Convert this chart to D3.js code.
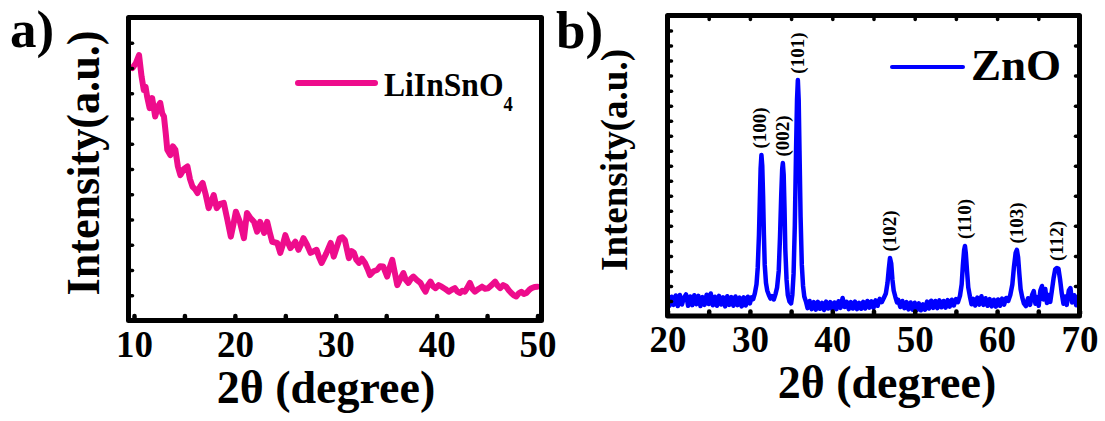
<!DOCTYPE html>
<html>
<head>
<meta charset="utf-8">
<script src="https://cdn.jsdelivr.net/npm/d3@7"></script>
<style>
  html, body { margin: 0; padding: 0; background: #fff; }
  svg { display: block; }
  text { font-family: "Liberation Serif", "Times New Roman", serif; font-weight: bold; fill: #000; }
</style>
</head>
<body>
<svg id="fig" width="1105" height="421"></svg>
<script>
// ---------- (a) LiInSnO4 diffraction pattern ----------
const liinsnoTheta = [
  9.85, 10.2, 10.5, 10.75, 10.97, 11.15, 11.3, 11.55, 11.8, 12.1, 12.35, 12.6, 12.8, 12.97,
  13.15, 13.3, 13.6, 13.85, 14.1, 14.35, 14.6, 14.95, 15.3, 15.55, 15.8, 16.05, 16.3, 16.55,
  16.8, 17.1, 17.4, 17.65, 17.9, 18.2, 18.55, 18.9, 19.25, 19.6, 19.85, 20.1, 20.5, 20.9,
  21.2, 21.55, 21.9, 22.2, 22.5, 22.9, 23.2, 23.45, 23.7, 24.2, 24.5, 24.75, 25.0, 25.25,
  25.5, 26.0, 26.3, 26.55, 26.8, 27.15, 27.5, 28.1, 28.35, 28.6, 29.05, 29.5, 29.8, 30.1,
  30.4, 30.65, 30.9, 31.3, 31.55, 31.8, 32.05, 32.3, 32.6, 32.9, 33.15, 33.4, 33.75, 34.1,
  34.4, 34.7, 35.1, 35.35, 35.6, 35.85, 36.1, 36.4, 36.7, 36.95, 37.2, 37.45, 37.7, 38.05,
  38.4, 38.65, 38.9, 39.15, 39.4, 39.65, 39.9, 40.2, 40.5, 40.85, 41.2, 41.5, 41.8, 42.05,
  42.3, 42.55, 42.8, 43.05, 43.3, 43.55, 43.8, 44.15, 44.5, 44.8, 45.1, 45.45, 45.8, 46.05,
  46.3, 46.6, 46.9, 47.15, 47.4, 47.65, 47.9, 48.15, 48.4, 48.65, 48.9, 49.15, 49.4, 49.7, 50.0
];
const liinsnoIntensity = [
  1000, 1020, 1051, 966, 913, 925, 887, 841, 881, 808, 845, 862, 820, 808,
  740, 676, 655, 690, 676, 610, 576, 600, 610, 560, 530, 520, 505, 530,
  545, 500, 445, 470, 497, 445, 462, 466, 400, 332, 380, 431, 390, 326,
  426, 405, 391, 352, 391, 347, 391, 350, 312, 307, 268, 300, 338, 310,
  287, 312, 280, 300, 326, 300, 268, 280, 250, 228, 265, 307, 253, 290,
  326, 330, 319, 247, 275, 268, 240, 228, 245, 228, 205, 180, 195, 200,
  215, 214, 174, 210, 240, 190, 140, 165, 188, 160, 149, 165, 174, 160,
  149, 130, 114, 140, 154, 135, 128, 140, 134, 125, 114, 122, 128, 115,
  109, 118, 114, 130, 149, 125, 114, 125, 134, 126, 128, 140, 154, 138,
  128, 140, 134, 120, 109, 100, 95, 108, 114, 105, 109, 120, 128, 133, 134
];
const xTicksA = [10, 15, 20, 25, 30, 35, 40, 45, 50];
const xLabelsA = [10, 20, 30, 40, 50];

// ---------- (b) ZnO diffraction pattern ----------
const znoTheta = [
  20.00, 20.25, 20.50, 20.75, 21.00, 21.25, 21.50, 21.75, 22.00, 22.25, 22.50, 22.75,
  23.00, 23.25, 23.50, 23.75, 24.00, 24.25, 24.50, 24.75, 25.00, 25.25, 25.50, 25.75,
  26.00, 26.25, 26.50, 26.75, 27.00, 27.25, 27.50, 27.75, 28.00, 28.25, 28.50, 28.75,
  29.00, 29.25, 29.50, 29.75, 30.00,
  30.20, 30.40, 30.60, 30.80, 30.95, 31.10, 31.20, 31.30, 31.40, 31.50, 31.60, 31.70,
  31.80, 31.95, 32.10, 32.30, 32.50, 32.70, 32.90, 33.10, 33.30, 33.50, 33.65, 33.80,
  33.92, 34.00, 34.10, 34.20, 34.30, 34.45, 34.60, 34.80, 35.00, 35.15, 35.30, 35.45,
  35.60, 35.72, 35.82, 35.92, 36.02, 36.15, 36.30, 36.45, 36.60, 36.80, 37.00, 37.25,
  37.50, 37.75,
  38.00, 38.25, 38.50, 38.75, 39.00, 39.25, 39.50, 39.75, 40.00, 40.25, 40.50, 40.75,
  41.00, 41.25, 41.50, 41.75, 42.00, 42.25, 42.50, 42.75, 43.00, 43.25, 43.50, 43.75,
  44.00, 44.25, 44.50, 44.75, 45.00, 45.25, 45.50, 45.75, 46.00, 46.25, 46.50, 46.70,
  46.85, 47.00, 47.15, 47.30, 47.45, 47.65, 47.85, 48.00, 48.25, 48.50, 48.75, 49.00,
  49.25, 49.50, 49.75, 50.00, 50.25, 50.50, 50.75, 51.00, 51.25, 51.50, 51.75, 52.00,
  52.25, 52.50, 52.75, 53.00, 53.25, 53.50, 53.75, 54.00, 54.25, 54.50, 54.75, 55.00,
  55.25, 55.50, 55.70, 55.85, 56.00, 56.10, 56.20, 56.35, 56.50, 56.70, 56.90, 57.10,
  57.35, 57.60, 57.85, 58.10, 58.35, 58.60, 58.85, 59.10, 59.35, 59.60, 59.85, 60.10,
  60.35, 60.60, 60.85, 61.10, 61.35, 61.60, 61.85, 62.05, 62.25, 62.40, 62.55, 62.70,
  62.85, 63.05, 63.25, 63.50, 63.75, 64.00, 64.25, 64.45, 64.65, 64.85, 65.05, 65.25,
  65.45, 65.65, 65.85, 66.05, 66.25, 66.45, 66.65, 66.85, 67.05, 67.25, 67.45, 67.65,
  67.85, 68.05, 68.25, 68.45, 68.70, 68.90, 69.10, 69.35, 69.60, 69.80, 70.00
];
const znoIntensity = [
  6.6, 3.4, 6.4, 3.7, 6.8, 3.3, 7.0, 3.8, 6.1, 7.2, 3.4, 6.5,
  3.6, 6.9, 3.9, 6.7, 3.3, 6.3, 3.7, 7.1, 4.0, 7.5, 3.6, 6.4,
  3.4, 6.7, 3.8, 6.2, 3.2, 6.6, 3.7, 6.3, 3.4, 6.5, 3.6, 6.1,
  3.2, 6.2, 3.5, 6.4, 4.2,
  6.2, 5.6, 7.5, 10.5, 16, 27, 38, 49, 53.6, 50, 40, 27,
  17, 11, 8.5, 7.0, 5.8, 6.6, 5.5, 7.2, 9.5, 15, 26, 40,
  49, 50.9, 47, 36, 22, 12, 7.0, 4.8, 4.2, 7, 14, 30,
  55, 72, 78.5, 72, 55, 33, 17, 10, 6.5, 4.8, 2.6, 5.0,
  2.3, 4.6,
  2.1, 4.7, 2.4, 4.4, 2.0, 4.8, 2.5, 4.6, 2.2, 4.5, 2.3, 4.9,
  2.7, 6.0, 3.0, 4.7, 2.3, 4.6, 2.5, 4.8, 2.3, 4.4, 2.4, 4.7,
  2.5, 5.0, 2.8, 4.9, 2.7, 5.2, 3.4, 5.7, 4.6, 6.0, 7.5, 11,
  15.5, 19.3, 17.5, 12, 8.5, 6.4, 4.5, 5.4, 3.0, 5.0, 2.6, 4.6,
  2.2, 4.5, 2.1, 4.4, 2.0, 4.2, 1.9, 3.9, 2.1, 4.8, 2.5, 5.1,
  2.7, 5.0, 2.6, 5.2, 2.9, 5.0, 2.8, 5.3, 3.1, 5.4, 3.5, 5.6,
  4.6, 6.8, 10.5, 17, 22, 23.3, 21, 15, 9.5, 6.5, 3.9, 5.7,
  3.5, 6.1, 3.8, 6.6, 3.7, 5.9, 3.4, 5.6, 3.2, 5.4, 3.1, 5.5,
  3.4, 5.8, 3.8, 6.0, 5.0, 7.0, 10.5, 16.5, 21, 22, 19.5, 14,
  9, 6.2, 4.2, 3.3, 5.9, 3.7, 7.0, 8.3, 4.1, 6.3, 3.4, 8.5,
  10.0, 5.5, 9.0, 4.3, 7.0, 4.7, 8.5, 12.5, 15.5, 16.0, 15.7, 12,
  7.5, 4.1, 6.5, 3.7, 8.5, 9.3, 4.5, 6.9, 3.6, 6.5, 4.6
];
const znoPeakLabels = ["(100)", "(002)", "(101)", "(102)", "(110)", "(103)", "(112)"];
const znoPeakTheta = [31.4, 34.0, 35.82, 47.0, 56.1, 62.4, 67.25];
const znoPeakIntensity = [53.6, 50.9, 78.5, 19.3, 23.3, 22.0, 16.0];
const xTicksB = [20, 25, 30, 35, 40, 45, 50, 55, 60, 65, 70];
const xLabelsB = [20, 30, 40, 50, 60, 70];

// ---------- drawing ----------
const svg = d3.select("#fig");
const PINK = "#ee0c8c", BLUE = "#0000ff";
const FRAME_W = 5;

function styleTicks(g, w) {
  g.select(".domain").remove();
  g.selectAll(".tick line").attr("stroke", "#000").attr("stroke-width", w).attr("stroke-linecap", "round");
}

function panel(cfg) {
  const g = svg.append("g");
  const { fx0, fx1, fy0, fy1 } = cfg;
  const x = d3.scaleLinear().domain(cfg.xDomain).range(cfg.xRange);
  const y = d3.scaleLinear().domain(cfg.yDomain).range([fy1, fy0]);

  // data line
  const line = d3.line().x(d => x(d[0])).y(d => y(d[1]));
  g.append("path")
    .datum(d3.zip(cfg.theta, cfg.intensity))
    .attr("d", line)
    .attr("fill", "none")
    .attr("stroke", cfg.color)
    .attr("stroke-width", cfg.lineW)
    .attr("stroke-linejoin", "round")
    .attr("stroke-linecap", "round");

  // bottom ticks (inward) and labels
  const bottom = g.append("g")
    .attr("transform", `translate(0,${fy1 - FRAME_W / 2})`)
    .call(d3.axisBottom(x).tickValues(cfg.xTicks).tickSize(-2)
      .tickFormat(d => cfg.xLabels.includes(d) ? d : ""));
  styleTicks(bottom, 4.5);
  bottom.selectAll(".tick text")
    .attr("y", cfg.tickLabelY - (fy1 - FRAME_W / 2))
    .attr("dy", 0)
    .attr("font-size", 37)
    .attr("font-family", "Liberation Serif, Times New Roman, serif")
    .attr("font-weight", "bold");

  // left ticks
  const left = g.append("g")
    .attr("transform", `translate(${fx0 + FRAME_W / 2},0)`)
    .call(d3.axisLeft(y).tickValues(cfg.yTicks).tickSize(-1.5).tickFormat(""));
  styleTicks(left, 3.5);

  if (cfg.mirror) {
    const top = g.append("g")
      .attr("transform", `translate(0,${fy0 + FRAME_W / 2})`)
      .call(d3.axisTop(x).tickValues(cfg.xTicks).tickSize(-1.5).tickFormat(""));
    styleTicks(top, 3.5);
    const right = g.append("g")
      .attr("transform", `translate(${fx1 - FRAME_W / 2},0)`)
      .call(d3.axisRight(y).tickValues(cfg.yTicksRight).tickSize(-1.5).tickFormat(""));
    styleTicks(right, 3.5);
  }

  // frame
  g.append("rect")
    .attr("x", fx0).attr("y", fy0)
    .attr("width", fx1 - fx0).attr("height", fy1 - fy0)
    .attr("fill", "none").attr("stroke", "#000").attr("stroke-width", FRAME_W)
    .attr("stroke-linejoin", "round");

  // axis titles
  g.append("text")
    .attr("x", cfg.xTitle[0]).attr("y", cfg.xTitle[1])
    .attr("text-anchor", "middle").attr("font-size", 46)
    .text("2θ (degree)");
  g.append("text")
    .attr("transform", `translate(${cfg.yTitle[0]},${cfg.yTitle[1]}) rotate(-90) scale(${cfg.yTitle[3]},1)`)
    .attr("text-anchor", "middle").attr("font-size", cfg.yTitle[2])
    .text("Intensity(a.u.)");

  // panel letter
  g.append("text")
    .attr("x", cfg.letter[1]).attr("y", cfg.letter[2])
    .attr("font-size", 53)
    .text(cfg.letter[0]);

  return { g, x, y };
}

// (a)
const A = panel({
  fx0: 128.5, fx1: 541.5, fy0: 17.5, fy1: 320.5,
  xDomain: [10, 50], xRange: [134, 537.5],
  yDomain: [0, 1200],
  theta: liinsnoTheta, intensity: liinsnoIntensity,
  color: PINK, lineW: 6,
  xTicks: xTicksA, xLabels: xLabelsA, tickLabelY: 357,
  yTicks: d3.range(100, 1200, 100),
  mirror: false,
  xTitle: [326, 403], yTitle: [99, 163, 46, 0.96],
  letter: ["a)", 10, 47]
});
A.g.append("line")
  .attr("x1", 298).attr("x2", 375).attr("y1", 83).attr("y2", 83)
  .attr("stroke", PINK).attr("stroke-width", 6).attr("stroke-linecap", "round");
const legA = A.g.append("text")
  .attr("transform", "translate(384,96) scale(0.93,1)")
  .attr("font-size", 34);
legA.append("tspan").text("LiInSnO");
legA.append("tspan").attr("font-size", 20).attr("dy", 15).text("4");

// (b)
const B = panel({
  fx0: 667.5, fx1: 1079.5, fy0: 15.5, fy1: 316,
  xDomain: [20, 70], xRange: [667.5, 1079.5],
  yDomain: [0, 100],
  theta: znoTheta, intensity: znoIntensity,
  color: BLUE, lineW: 4.5,
  xTicks: xTicksB, xLabels: xLabelsB, tickLabelY: 352,
  yTicks: d3.range(5, 100, 5), yTicksRight: d3.range(10, 100, 10),
  mirror: true,
  xTitle: [887, 398], yTitle: [627, 160, 37, 1],
  letter: ["b)", 556, 48]
});
B.g.append("line")
  .attr("x1", 892).attr("x2", 963).attr("y1", 67).attr("y2", 67)
  .attr("stroke", BLUE).attr("stroke-width", 4).attr("stroke-linecap", "round");
B.g.append("text")
  .attr("x", 971).attr("y", 80)
  .attr("font-size", 45)
  .text("ZnO");

// Miller-index labels above each ZnO reflection
B.g.selectAll("text.hkl")
  .data(d3.zip(znoPeakLabels, znoPeakTheta, znoPeakIntensity))
  .join("text")
  .attr("class", "hkl")
  .attr("transform", d => `translate(${B.x(d[1]) - (d[0] === "(100)" ? 2 : 0)},${B.y(d[2]) - 27}) rotate(-90)`)
  .attr("text-anchor", "middle")
  .attr("dominant-baseline", "central")
  .attr("font-size", 19)
  .text(d => d[0]);
</script>
</body>
</html>
